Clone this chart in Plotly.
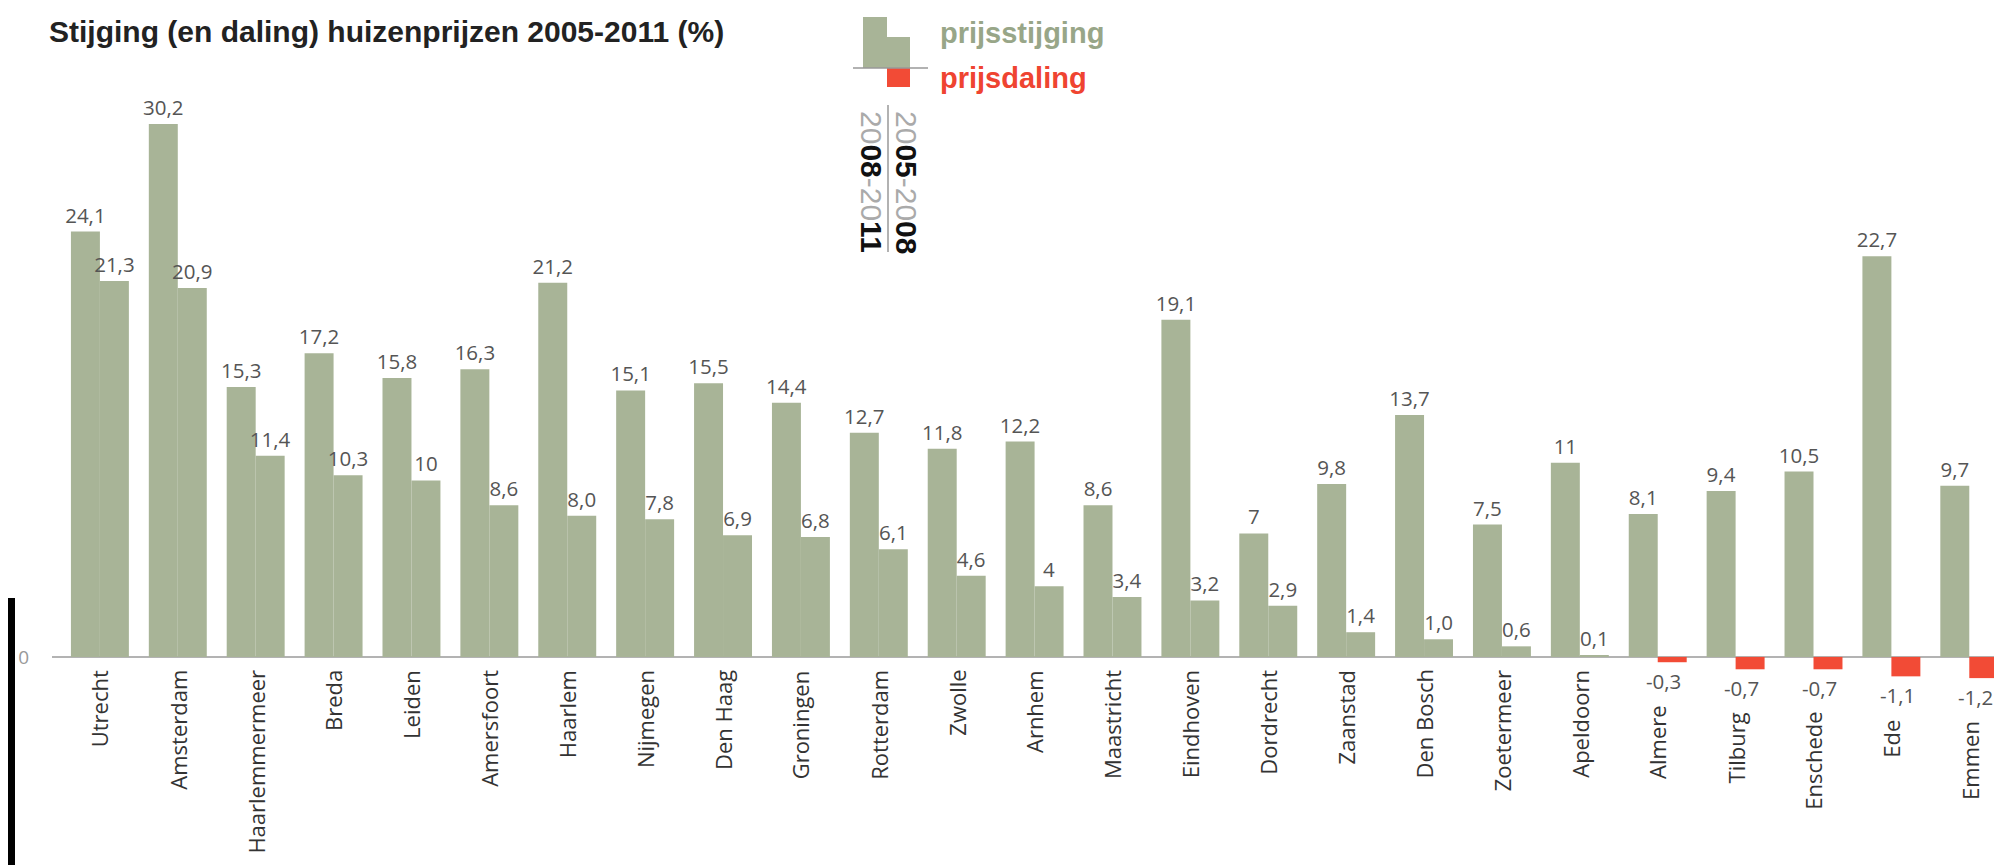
import plotly.graph_objects as go

# ---------------------------------------------------------------
# Data: house price change per city, two periods (%)
# ---------------------------------------------------------------
cities = ["Utrecht", "Amsterdam", "Haarlemmermeer", "Breda", "Leiden", "Amersfoort",
          "Haarlem", "Nijmegen", "Den Haag", "Groningen", "Rotterdam", "Zwolle",
          "Arnhem", "Maastricht", "Eindhoven", "Dordrecht", "Zaanstad", "Den Bosch",
          "Zoetermeer", "Apeldoorn", "Almere", "Tilburg", "Enschede", "Ede", "Emmen"]

p2005_2008 = [24.1, 30.2, 15.3, 17.2, 15.8, 16.3, 21.2, 15.1, 15.5, 14.4, 12.7, 11.8,
              12.2, 8.6, 19.1, 7, 9.8, 13.7, 7.5, 11, 8.1, 9.4, 10.5, 22.7, 9.7]
p2008_2011 = [21.3, 20.9, 11.4, 10.3, 10, 8.6, 8.0, 7.8, 6.9, 6.8, 6.1, 4.6,
              4, 3.4, 3.2, 2.9, 1.4, 1.0, 0.6, 0.1, -0.3, -0.7, -0.7, -1.1, -1.2]

lbl_2005_2008 = ["24,1", "30,2", "15,3", "17,2", "15,8", "16,3", "21,2", "15,1", "15,5",
                 "14,4", "12,7", "11,8", "12,2", "8,6", "19,1", "7", "9,8", "13,7",
                 "7,5", "11", "8,1", "9,4", "10,5", "22,7", "9,7"]
lbl_2008_2011 = ["21,3", "20,9", "11,4", "10,3", "10", "8,6", "8,0", "7,8", "6,9",
                 "6,8", "6,1", "4,6", "4", "3,4", "3,2", "2,9", "1,4", "1,0", "0,6",
                 "0,1", "-0,3", "-0,7", "-0,7", "-1,1", "-1,2"]

GREEN = '#a8b497'
RED = '#f24b36'

# page body adds an 8px margin, so the figure is drawn 8px smaller/offset
OFF = 8
W, H = 2002 - OFF, 865 - OFF
M_L, M_R, M_T, M_B = 44, 0, 52, 150


def px_x(px):
    """Screen pixel x -> paper x."""
    return (px - OFF - M_L) / (W - M_L - M_R)


def px_y(py):
    """Screen pixel y -> paper y."""
    return (H - M_B - (py - OFF)) / (H - M_T - M_B)


val_font = dict(family='Open Sans', size=20.5, color='#555555')

fig = go.Figure()
fig.add_trace(go.Bar(
    x=cities, y=p2005_2008, name='2005-2008',
    marker=dict(color=GREEN, line=dict(width=0)),
    text=lbl_2005_2008, textposition='outside', textfont=val_font,
    constraintext='none', cliponaxis=False,
))
fig.add_trace(go.Bar(
    x=cities, y=p2008_2011, name='2008-2011',
    marker=dict(color=[GREEN if v >= 0 else RED for v in p2008_2011], line=dict(width=0)),
    # negative labels are drawn as annotations below (keeps Emmen inside the page)
    text=[t if v >= 0 else '' for t, v in zip(lbl_2008_2011, p2008_2011)],
    textposition='outside', textfont=val_font,
    constraintext='none', cliponaxis=False,
))

annotations = []
for c, v, t in zip(cities, p2008_2011, lbl_2008_2011):
    if v < 0:
        annotations.append(dict(
            x=c, y=v, xref='x', yref='y', text=t, showarrow=False,
            xanchor='center', yanchor='top', xshift=6, yshift=-3, font=val_font,
        ))
    # rotated city labels under the zero line (pushed down below negative values)
    annotations.append(dict(
        x=c, y=min(0, v), xref='x', yref='y',
        text=c, textangle=-90, showarrow=False,
        xanchor='center', yanchor='top', yshift=-11 if v >= 0 else -41,
        font=dict(family='Open Sans', size=22, color='#333333'),
    ))

# legend block
annotations += [
    dict(x=px_x(938), y=px_y(33), xref='paper', yref='paper', text='<b>prijsstijging</b>',
         showarrow=False, xanchor='left', yanchor='middle',
         font=dict(family='Liberation Sans', size=29, color='#98a688')),
    dict(x=px_x(938), y=px_y(78), xref='paper', yref='paper', text='<b>prijsdaling</b>',
         showarrow=False, xanchor='left', yanchor='middle',
         font=dict(family='Liberation Sans', size=29, color='#ef4431')),
    dict(x=px_x(907), y=px_y(182), xref='paper', yref='paper', textangle=90,
         text="<span style='color:#aaaaaa'>20</span><b>05</b><span style='color:#aaaaaa'>-20</span><b>08</b>",
         showarrow=False, xanchor='center', yanchor='middle',
         font=dict(family='Liberation Sans', size=30, color='#111111')),
    dict(x=px_x(872), y=px_y(182), xref='paper', yref='paper', textangle=90,
         text="<span style='color:#aaaaaa'>20</span><b>08</b><span style='color:#aaaaaa'>-20</span><b>11</b>",
         showarrow=False, xanchor='center', yanchor='middle',
         font=dict(family='Liberation Sans', size=30, color='#111111')),
]

shapes = [
    dict(type='rect', xref='paper', yref='paper', x0=px_x(863), x1=px_x(887),
         y0=px_y(68), y1=px_y(17), fillcolor=GREEN, line=dict(width=0)),
    dict(type='rect', xref='paper', yref='paper', x0=px_x(887), x1=px_x(910),
         y0=px_y(68), y1=px_y(37), fillcolor=GREEN, line=dict(width=0)),
    dict(type='rect', xref='paper', yref='paper', x0=px_x(887), x1=px_x(910),
         y0=px_y(87), y1=px_y(68), fillcolor=RED, line=dict(width=0)),
    dict(type='line', xref='paper', yref='paper', x0=px_x(853), x1=px_x(928),
         y0=px_y(68), y1=px_y(68), line=dict(color='#999999', width=1.5)),
    dict(type='line', xref='paper', yref='paper', x0=px_x(888), x1=px_x(888),
         y0=px_y(105), y1=px_y(252), line=dict(color='#999999', width=1.5)),
    # dark strip at the left edge of the screenshot
    dict(type='rect', xref='paper', yref='paper', x0=px_x(OFF), x1=px_x(OFF + 7),
         y0=px_y(865), y1=px_y(598), fillcolor='#000000', line=dict(width=0)),
]

fig.update_layout(
    width=W, height=H,
    margin=dict(l=M_L, r=M_R, t=M_T, b=M_B),
    paper_bgcolor='white', plot_bgcolor='white',
    font=dict(family='Open Sans'),
    barmode='group', bargap=0.256, bargroupgap=0,
    showlegend=False,
    title=dict(text='<b>Stijging (en daling) huizenprijzen 2005-2011 (%)</b>',
               x=(49 - OFF) / W, xanchor='left', y=1 - (31 - OFF) / H, yanchor='middle',
               font=dict(family='Liberation Sans', size=30, color='#222222')),
    xaxis=dict(type='category', range=[-0.615, 24.42], showticklabels=False,
               showgrid=False, showline=False, zeroline=False, ticks=''),
    yaxis=dict(range=[-3.29, 33.82], tickvals=[0], ticktext=['0'], showgrid=False,
               zeroline=True, zerolinecolor='#b3b3b3', zerolinewidth=2,
               showline=False, ticks='', ticklabelstandoff=22,
               tickfont=dict(family='Open Sans', size=19, color='#999999')),
    annotations=annotations,
    shapes=shapes,
)

fig.write_html("out.html")
